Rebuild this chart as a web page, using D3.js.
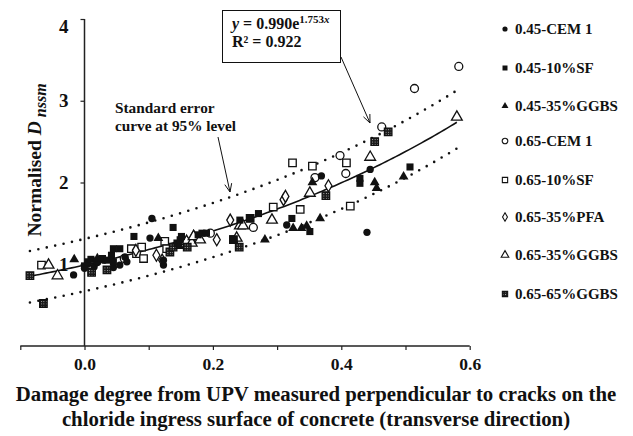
<!DOCTYPE html>
<html><head><meta charset="utf-8">
<script src="https://cdn.jsdelivr.net/npm/d3@7"></script>
<style>
body{margin:0;background:#fff;}
svg{display:block;font-family:"Liberation Serif","Times New Roman",serif;font-weight:bold;}
</style></head><body>
<svg id="c" width="633" height="436"></svg>
<script>
// ---- data ----
const seriesNames = ["0.45-CEM 1","0.45-10%SF","0.45-35%GGBS","0.65-CEM 1","0.65-10%SF","0.65-35%PFA","0.65-35%GGBS","0.65-65%GGBS"];
const cem45_x = [-0.017,0.0,0.005,0.015,0.02,0.03,0.045,0.055,0.063,0.066,0.102,0.105,0.123,0.123,0.315,0.369,0.445,0.44];
const cem45_y = [0.87,0.95,1.0,0.97,1.02,1.05,0.96,0.99,1.09,1.03,1.32,1.56,0.99,1.05,1.48,2.08,2.16,1.39];
const sf45_x = [0.0,0.005,0.01,0.02,0.028,0.035,0.042,0.045,0.045,0.055,0.077,0.138,0.144,0.149,0.151,0.177,0.183,0.19,0.232,0.242,0.258,0.271,0.323,0.351,0.429,0.429,0.507];
const sf45_y = [0.98,1.03,1.06,1.04,1.07,1.05,1.11,1.03,1.19,1.19,1.34,1.45,1.26,1.30,1.34,1.36,1.38,1.38,1.30,1.54,1.56,1.62,1.56,1.40,2.05,1.99,2.19];
const ggbs45_x = [-0.016,0.02,0.115,0.148,0.281,0.325,0.338,0.346,0.355,0.367,0.452,0.455,0.497];
const ggbs45_y = [1.06,1.07,1.32,1.22,1.30,1.44,1.44,1.47,2.00,1.56,2.00,1.93,2.07];
const cem65_x = [0.062,0.196,0.263,0.359,0.398,0.407,0.463,0.514,0.583];
const cem65_y = [1.07,1.38,1.45,2.06,2.33,2.11,2.68,3.15,3.42];
const sf65_x = [-0.067,0.073,0.081,0.089,0.092,0.125,0.128,0.232,0.294,0.324,0.336,0.355,0.408,0.414];
const sf65_y = [0.99,1.19,1.13,1.21,1.07,1.28,1.19,1.30,1.70,2.24,1.67,2.20,2.24,1.71];
const pfa65_x = [0.08,0.112,0.121,0.17,0.206,0.227,0.31,0.313,0.38];
const pfa65_y = [1.17,1.11,1.05,1.34,1.30,1.54,1.79,1.83,1.96];
const ggbs65_x = [-0.056,-0.042,0.159,0.167,0.17,0.18,0.237,0.242,0.247,0.292,0.351,0.445,0.58];
const ggbs65_y = [0.99,0.86,1.28,1.26,1.34,1.30,1.32,1.47,1.47,1.54,1.87,2.31,2.80];
const g6565_x = [-0.085,-0.064,0.011,0.035,0.133,0.138,0.16,0.232,0.241,0.258,0.376,0.452,0.473];
const g6565_y = [0.86,0.52,0.90,0.93,1.15,1.21,1.21,1.30,1.21,1.56,1.84,2.50,2.62];
const xTicks = [-0.1,0,0.1,0.2,0.3,0.4,0.5,0.6];
const xTickLabels = ["0.0","0.2","0.4","0.6"];
const yTicks = [1,2,3,4];
const fitA = 0.990, fitB = 1.753, r2 = 0.922;
const fitRange = [-0.085, 0.58];
const bandHalf = 0.32; // standard error half-width

// ---- drawing ----
const svg = d3.select("#c");
const x = d3.scaleLinear().domain([-0.1,0.6]).range([20.3,469.7]);
const y = d3.scaleLinear().domain([0,4]).range([346,19]);

const defs = svg.append("defs");
const pat = defs.append("pattern").attr("id","speck").attr("width",2.5).attr("height",2.5).attr("patternUnits","userSpaceOnUse");
pat.append("rect").attr("width",2.5).attr("height",2.5).attr("fill","#1a1a1a");
pat.append("rect").attr("width",0.9).attr("height",0.9).attr("fill","#bbb");

// axes
const xAxis = d3.axisBottom(x).tickValues(xTicks).tickSize(4).tickFormat(d => {
  const s = d3.format(".1f")(d); return xTickLabels.includes(s) ? s : "";
});
const gx = svg.append("g").attr("transform","translate(0,346)").call(xAxis);
gx.select(".domain").attr("d","M20.3,0H469.7").attr("stroke","#222").attr("stroke-width",1.5);
gx.selectAll(".tick line").attr("stroke","#222").attr("stroke-width",1.2);
gx.selectAll(".tick text").attr("font-size",17.5).attr("font-family","Liberation Serif").attr("font-weight","bold").attr("fill","#111").attr("dy","0.95em");

const yAxis = d3.axisLeft(y).tickValues(yTicks).tickSize(4).tickFormat(d3.format("d"));
const gy = svg.append("g").attr("transform",`translate(${x(0)},0)`).call(yAxis);
gy.select(".domain").attr("d","M0,19V346").attr("stroke","#222").attr("stroke-width",1.5);
gy.selectAll(".tick line").attr("stroke","#222").attr("stroke-width",1.2);
gy.selectAll(".tick text").attr("font-size",19).attr("font-family","Liberation Serif").attr("font-weight","bold").attr("fill","#111").attr("x",-16)
  .attr("dy", d => d === 4 ? "0.7em" : "0.32em");

// fit & bands
const fit = v => fitA*Math.exp(fitB*v);
const xs = d3.range(fitRange[0], fitRange[1]+0.0001, 0.005);
const line = d3.line();
svg.append("path").attr("d", line(xs.map(v=>[x(v),y(fit(v))]))).attr("fill","none").attr("stroke","#111").attr("stroke-width",1.6);
svg.append("path").attr("d", line(xs.map(v=>[x(v),y(fit(v)+bandHalf+0.12*v)]))).attr("fill","none").attr("stroke","#111").attr("stroke-width",2.6).attr("stroke-linecap","round").attr("stroke-dasharray","0,8.6");
svg.append("path").attr("d", line(xs.map(v=>[x(v),y(fit(v)-bandHalf)]))).attr("fill","none").attr("stroke","#111").attr("stroke-width",2.6).attr("stroke-linecap","round").attr("stroke-dasharray","0,8.6");

// markers
const styles = [
  {type:d3.symbolCircle, size:42, fill:"#111", stroke:"none"},
  {type:d3.symbolSquare, size:50, fill:"#111", stroke:"none"},
  {type:d3.symbolTriangle, size:42, fill:"#111", stroke:"none"},
  {type:d3.symbolCircle, size:50, fill:"#fff", stroke:"#111"},
  {type:d3.symbolSquare, size:56, fill:"#fff", stroke:"#111"},
  {type:d3.symbolDiamond, size:42, fill:"#fff", stroke:"#111"},
  {type:d3.symbolTriangle, size:50, fill:"#fff", stroke:"#111"},
  {type:d3.symbolSquare, size:56, fill:"url(#speck)", stroke:"#111"}
];
const allX = [cem45_x,sf45_x,ggbs45_x,cem65_x,sf65_x,pfa65_x,ggbs65_x,g6565_x];
const allY = [cem45_y,sf45_y,ggbs45_y,cem65_y,sf65_y,pfa65_y,ggbs65_y,g6565_y];
const order = [3,4,5,6,7,0,1,2];
order.forEach(i => {
  const st = styles[i];
  const pts = allX[i].map((v,k)=>[v, allY[i][k]]);
  svg.append("g").selectAll("path").data(pts).join("path")
    .attr("transform", d=>`translate(${x(d[0])},${y(d[1])})`)
    .attr("d", d3.symbol().type(st.type).size(st.size))
    .attr("fill", st.fill).attr("stroke", st.stroke).attr("stroke-width",1.3);
});

// legend
const legY = [29,68,106,141,180,217,255,294];
const leg = svg.append("g");
seriesNames.forEach((n,i)=>{
  const st = styles[i];
  leg.append("path").attr("transform",`translate(505,${legY[i]})`)
    .attr("d", d3.symbol().type(st.type).size(st.size*0.5))
    .attr("fill", st.fill).attr("stroke", st.stroke).attr("stroke-width",1.1);
  leg.append("text").attr("x",515).attr("y",legY[i]).attr("dy","0.35em").attr("font-size",15).attr("fill","#111").text(n);
});

// equation box
svg.append("rect").attr("x",222.5).attr("y",10.5).attr("width",118).attr("height",52).attr("fill","#fff").attr("stroke","#111").attr("stroke-width",1);
const eq = svg.append("text").attr("x",232).attr("y",29).attr("font-size",16).attr("fill","#111");
eq.append("tspan").attr("font-style","italic").text("y");
eq.append("tspan").text(" = " + fitA.toFixed(3) + "e");
const sup = eq.append("tspan").attr("dy",-6).attr("font-size",11);
sup.append("tspan").text(fitB.toFixed(3));
sup.append("tspan").attr("font-style","italic").text("x");
svg.append("text").attr("x",232).attr("y",47).attr("font-size",16).attr("fill","#111").text("R² = " + r2.toFixed(3));

// arrows
function arrow(x1,y1,x2,y2){
  svg.append("line").attr("x1",x1).attr("y1",y1).attr("x2",x2).attr("y2",y2).attr("stroke","#111").attr("stroke-width",1);
  const a = Math.atan2(y2-y1,x2-x1), L=9, w=0.4;
  svg.append("path").attr("d",`M${x2-L*Math.cos(a-w)},${y2-L*Math.sin(a-w)}L${x2},${y2}L${x2-L*Math.cos(a+w)},${y2-L*Math.sin(a+w)}`).attr("fill","none").attr("stroke","#111").attr("stroke-width",1);
}
arrow(341,57,370,123);
arrow(218,137,230,192);

svg.append("text").attr("x",115).attr("y",113).attr("font-size",15.3).attr("fill","#111").text("Standard error");
svg.append("text").attr("x",115).attr("y",131).attr("font-size",15.3).attr("fill","#111").text("curve at 95% level");

// axis titles
svg.append("text").attr("x",316).attr("y",401).attr("text-anchor","middle").attr("font-size",20.8).attr("fill","#111").text("Damage degree from UPV measured perpendicular to cracks on the");
svg.append("text").attr("x",316).attr("y",426).attr("text-anchor","middle").attr("font-size",20.8).attr("fill","#111").text("chloride ingress surface of concrete (transverse direction)");
const yt = svg.append("text").attr("transform","translate(41,160) rotate(-90)").attr("text-anchor","middle").attr("font-size",19.5).attr("fill","#111");
yt.append("tspan").text("Normalised ");
yt.append("tspan").attr("font-style","italic").text("D");
yt.append("tspan").attr("font-style","italic").attr("font-size",16).attr("dy",5).text(" nssm");
</script></body></html>
